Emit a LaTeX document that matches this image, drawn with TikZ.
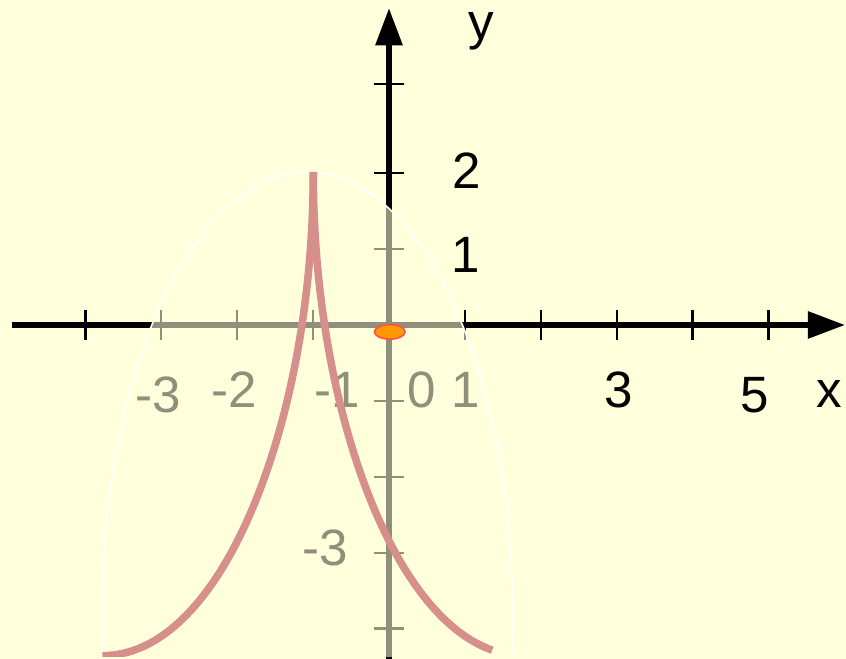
\documentclass[tikz,border=0pt]{standalone}
\usepackage{fontspec}
\setmainfont{Liberation Sans}
\usetikzlibrary{arrows.meta}
\definecolor{paper}{HTML}{FFFFDC}
\definecolor{curvepink}{HTML}{D68F8A}
\definecolor{dotorange}{HTML}{FF9900}
\definecolor{dotred}{HTML}{FF5050}

\begin{document}
\begin{tikzpicture}[
  axisline/.style={line width=1.9pt, -{Triangle[length=13.8pt, width=9.8pt]}},
  tickmark/.style={line width=0.8pt},
  lbl/.style={anchor=base, inner sep=0pt, font=\fontsize{19pt}{22pt}\selectfont},
  branch/.style={curvepink, line width=2.8pt, variable=\u, samples=80}
]
  \fill[paper] (-5.085,-4.366) rectangle (5.974,4.248);
  \useasboundingbox (-5.085,-4.366) rectangle (5.974,4.248);

  \coordinate (xs) at (-4.93,0);
  \coordinate (xe) at (5.96,0);
  \coordinate (ys) at (0,-4.37);
  \coordinate (ye) at (0,4.14);
  \coordinate (C) at (-1.07,-3.79);
  \coordinate (O) at (0.01,-0.09);

  % Achsen
  \draw[axisline] (xs) -- (xe);
  \draw[axisline] (ys) -- (ye);
  \foreach \i in {-4,...,5}
    \draw[tickmark] (0.992*\i,-0.196) -- (0.992*\i,0.196);
  \foreach \j in {-4,-3,-2,-1,1,2,3.18}
    \draw[tickmark] (-0.196,0.992*\j) -- (0.196,0.992*\j);

  \node[lbl] (ly)  at (1.20,3.73)  {y};
  \node[lbl] (ly2) at (1.02,1.79)  {2};
  \node[lbl] (ly1) at (1.00,0.69)  {1};
  \node[lbl] (lym) at (-0.84,-3.14) {-3};
  \node[lbl] (lxa) at (-3.02,-1.15) {-3};
  \node[lbl] (lxb) at (-2.02,-1.08) {-2};
  \node[lbl] (lxc) at (-0.68,-1.08) {-1};
  \node[lbl] (lx0) at (0.43,-1.08)  {0};
  \node[lbl] (lx1) at (1.00,-1.08)  {1};
  \node[lbl] (lx3) at (3.00,-1.08)  {3};
  \node[lbl] (lx5) at (4.78,-1.15)  {5};
  \node[lbl] (lx)  at (5.76,-1.08)  {x};

  \begin{scope}
    \clip (-5.085,-4.34) rectangle (5.974,4.248);
    % Ellipse
    \draw[white, line width=0.6pt, fill=paper, fill opacity=0.56]
      (C) ellipse [x radius=2.685, y radius=5.79];
    % Spitze bei (-0.99,2)
    \draw[branch] plot[domain=0:1.661]
      ({-0.99-\u*\u}, {2-5.283*\u+0.189*\u*\u+0.2536*\u*\u*\u*\u});
    \draw[branch] plot[domain=0:1.53]
      ({-0.99+\u*\u}, {2-5.283*\u+0.189*\u*\u+0.2536*\u*\u*\u*\u});
  \end{scope}

  \draw[dotred, fill=dotorange, line width=0.6pt] (O) ellipse [x radius=0.2, y radius=0.095];
\end{tikzpicture}
\end{document}
